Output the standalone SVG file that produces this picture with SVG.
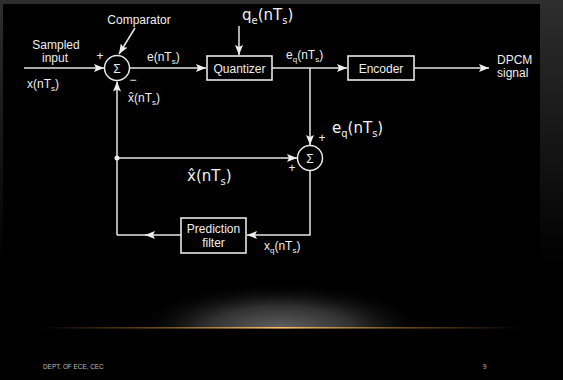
<svg xmlns="http://www.w3.org/2000/svg" width="563" height="380" viewBox="0 0 563 380">
<defs>
<linearGradient id="bg" x1="0" y1="0" x2="0" y2="1">
<stop offset="0" stop-color="#2e2e2e"/>
<stop offset="0.7" stop-color="#000"/>
<stop offset="1" stop-color="#000"/>
</linearGradient>
<radialGradient id="glow" cx="280" cy="330" r="150" gradientUnits="userSpaceOnUse" gradientTransform="translate(280 330) scale(1 0.32) translate(-280 -330)">
<stop offset="0" stop-color="#646464"/>
<stop offset="0.5" stop-color="#303030"/>
<stop offset="1" stop-color="#000" stop-opacity="0"/>
</radialGradient>
<linearGradient id="gold" x1="0" y1="0" x2="1" y2="0">
<stop offset="0" stop-color="#c08030" stop-opacity="0"/>
<stop offset="0.25" stop-color="#b07830" stop-opacity="0.6"/>
<stop offset="0.5" stop-color="#ffc060"/>
<stop offset="0.75" stop-color="#b07830" stop-opacity="0.6"/>
<stop offset="1" stop-color="#c08030" stop-opacity="0"/>
</linearGradient>
<clipPath id="above"><rect x="0" y="0" width="563" height="328"/></clipPath>
<marker id="ah" viewBox="0 0 10 8" refX="10" refY="4" markerWidth="10" markerHeight="8" markerUnits="userSpaceOnUse" orient="auto">
<path d="M0,0 L10,4 L0,8 L2,4 Z" fill="#eee"/>
</marker>
<style>
.ln{stroke:#e6e6e6;stroke-width:1.5;fill:none}
.bx{stroke:#e6e6e6;stroke-width:1.6;fill:#000}
.t{font-family:"Liberation Sans",Arial,sans-serif;font-size:12px;fill:#eee}
.s{font-size:8px}
.h{font-family:"DejaVu Sans",sans-serif;font-size:15px;fill:#f2f2f2}
.f{font-family:"Liberation Sans",Arial,sans-serif;font-size:6.4px;fill:#bbb}
</style>
</defs>
<rect x="0" y="0" width="563" height="380" fill="url(#bg)"/>
<rect x="3" y="4" width="537" height="376" fill="#000"/>
<ellipse cx="280" cy="330" rx="150" ry="48" fill="url(#glow)" clip-path="url(#above)"/>
<rect x="40" y="327" width="480" height="1.6" fill="url(#gold)"/>

<g id="connectors">
<line class="ln" x1="24" y1="68" x2="104" y2="68" marker-end="url(#ah)"/>
<line class="ln" x1="135" y1="28" x2="119" y2="54" marker-end="url(#ah)"/>
<line class="ln" x1="129.5" y1="68" x2="206" y2="68" marker-end="url(#ah)"/>
<line class="ln" x1="239" y1="26" x2="239" y2="55" marker-end="url(#ah)"/>
<line class="ln" x1="272" y1="68" x2="347" y2="68" marker-end="url(#ah)"/>
<line class="ln" x1="414" y1="68" x2="489" y2="68" marker-end="url(#ah)"/>
<line class="ln" x1="310" y1="68" x2="310" y2="145" marker-end="url(#ah)"/>
<line class="ln" x1="117" y1="158" x2="297" y2="158" marker-end="url(#ah)"/>
<circle cx="117" cy="158" r="2.5" fill="#eee"/>
<path class="ln" d="M310,170.5 V235 H247" marker-end="url(#ah)"/>
<line class="ln" x1="181" y1="235" x2="145" y2="235" marker-end="url(#ah)"/>
<line class="ln" x1="146" y1="235" x2="117" y2="235"/>
<line class="ln" x1="117" y1="235" x2="117" y2="81.5" marker-end="url(#ah)"/>
</g>

<g id="comparator">
<circle class="ln" cx="117" cy="68" r="12.5"/>
<text class="t" x="117" y="73" text-anchor="middle" font-size="14">Σ</text>
<text class="t" x="139" y="24" text-anchor="middle">Comparator</text>
<text class="t" x="100" y="60" text-anchor="middle">+</text>
<text class="t" x="133" y="84" text-anchor="middle">−</text>
</g>

<g id="input">
<text class="t" x="56" y="48.5" text-anchor="middle">Sampled</text>
<text class="t" x="55" y="62" text-anchor="middle">input</text>
<text class="t" x="27" y="88">x(nT<tspan class="s" dy="3">s</tspan><tspan dy="-3">)</tspan></text>
</g>

<g id="labels">
<text class="t" x="147" y="61">e(nT<tspan class="s" dy="3">s</tspan><tspan dy="-3">)</tspan></text>
<text class="t" x="128" y="102">x̂(nT<tspan class="s" dy="3">s</tspan><tspan dy="-3">)</tspan></text>
<text class="t" x="286" y="59">e<tspan class="s" dy="3">q</tspan><tspan dy="-3">(nT</tspan><tspan class="s" dy="3">s</tspan><tspan dy="-3">)</tspan></text>
<text class="t" x="264" y="250">x<tspan class="s" dy="3">q</tspan><tspan dy="-3">(nT</tspan><tspan class="s" dy="3">s</tspan><tspan dy="-3">)</tspan></text>
<text class="h" x="242" y="20">q<tspan font-size="10" dy="4">e</tspan><tspan dy="-4">(nT</tspan><tspan font-size="10" dy="4">s</tspan><tspan dy="-4">)</tspan></text>
<text class="h" x="332" y="133">e<tspan font-size="10" dy="4">q</tspan><tspan dy="-4">(nT</tspan><tspan font-size="10" dy="4">s</tspan><tspan dy="-4">)</tspan></text>
<text class="h" x="187" y="181">x̂(nT<tspan font-size="10" dy="4">s</tspan><tspan dy="-4">)</tspan></text>
</g>

<g id="quantizer">
<rect class="bx" x="207" y="56" width="65" height="24"/>
<text class="t" x="239.5" y="72.5" text-anchor="middle">Quantizer</text>
</g>

<g id="encoder">
<rect class="bx" x="348" y="56" width="66" height="24"/>
<text class="t" x="381" y="72.5" text-anchor="middle">Encoder</text>
</g>

<g id="output">
<text class="t" x="497" y="63.5">DPCM</text>
<text class="t" x="497" y="77">signal</text>
</g>

<g id="adder">
<circle class="ln" cx="310" cy="158" r="12.5"/>
<text class="t" x="310" y="163" text-anchor="middle" font-size="14">Σ</text>
<text class="t" x="322" y="142" text-anchor="middle" font-size="10">+</text>
<text class="t" x="292" y="172" text-anchor="middle" font-size="10">+</text>
</g>

<g id="prediction-filter">
<rect class="bx" x="181" y="218" width="65" height="35"/>
<text class="t" x="213.5" y="233" text-anchor="middle">Prediction</text>
<text class="t" x="213.5" y="247" text-anchor="middle">filter</text>
</g>

<g id="footer">
<text class="f" x="43" y="369">DEPT. OF ECE, CEC</text>
<text class="f" x="483" y="369">9</text>
</g>
</svg>
